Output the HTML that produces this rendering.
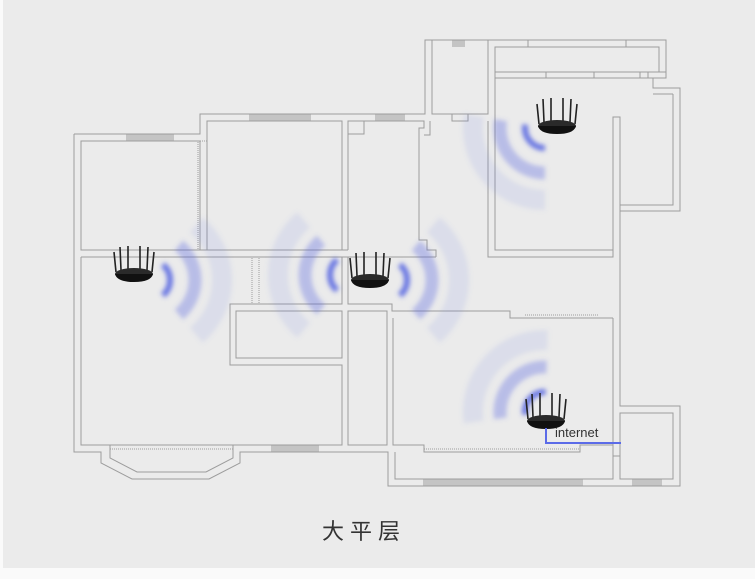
<!DOCTYPE html>
<html><head><meta charset="utf-8"><style>
html,body{margin:0;padding:0;background:#fafafa}
.wrap{position:absolute;left:3px;top:0;width:752px;height:568px;background:#ebebeb}
svg{position:absolute;left:0;top:0}
</style></head><body>
<div class="wrap"></div>
<svg width="755" height="579" viewBox="0 0 755 579">
<defs>
<filter id="bl" x="-1" y="-1" width="3" height="3"><feGaussianBlur stdDeviation="2.5"/></filter>
<g id="router">
 <g stroke="#222" stroke-width="1.6">
  <line x1="-18" y1="-2" x2="-20" y2="-22"/><line x1="-13" y1="-4" x2="-14" y2="-27"/>
  <line x1="-6" y1="-5" x2="-6" y2="-28"/><line x1="6" y1="-5" x2="6" y2="-28"/>
  <line x1="13" y1="-4" x2="14" y2="-27"/><line x1="18" y1="-2" x2="20" y2="-22"/>
 </g>
 <ellipse cx="0" cy="0" rx="19" ry="6" fill="#2a2a2a"/>
 <path d="M-19,0 Q-17,8 0,8 Q17,8 19,0Z" fill="#111"/>
</g>
</defs>
<g fill="#c4c4c4">
<rect x="126" y="134" width="48" height="7"/><rect x="249" y="114" width="62" height="7"/>
<rect x="375" y="114" width="30" height="7"/><rect x="452" y="40" width="13" height="7"/>
<rect x="271" y="445" width="48" height="7"/><rect x="423" y="479" width="160" height="7"/>
<rect x="632" y="479" width="30" height="7"/>
</g>
<g stroke="#9c9c9c" stroke-width="1" fill="none">
<polyline points="74,134 200,134 200,114 425,114 425,40 666,40 666,78 653,78 653,88 680,88 680,211 620,211 620,406 680,406 680,486 388,486 388,452 240,452 240,463 209,479 132,479 101,463 101,452 74,452 74,134"/>
<polyline points="110,445 110,458 137,472 206,472 233,458 233,445"/>
<rect x="81" y="141" width="119" height="109"/>
<rect x="207" y="121" width="135" height="129"/>
<polyline points="348,250 348,121 424,121 424,128 419,128 419,240 427,240 427,250 436,250 436,257"/>
<polyline points="430,121 430,135 424,135"/>
<rect x="348" y="121" width="16" height="13"/>
<line x1="81" y1="250" x2="348" y2="250"/>
<line x1="81" y1="257" x2="436" y2="257"/>
<polyline points="81,257 81,445 342,445 342,365 230,365 230,304 342,304 342,257"/>
<rect x="236" y="311" width="106" height="47"/>
<polyline points="348,257 348,304 392,304 392,311 510,311 510,318 613,318"/>
<rect x="348" y="311" width="39" height="134"/>
<polyline points="393,318 393,445 424,445 424,452 580,452 580,445 613,445"/>
<polyline points="395,452 395,479 613,479 613,456 620,456 620,479"/>
<line x1="613" y1="318" x2="613" y2="479"/>
<rect x="620" y="413" width="53" height="66"/>
<polyline points="432,40 432,114 488,114 488,40"/>
<polyline points="452,114 452,121 468,121 468,114"/>
<rect x="495" y="47" width="164" height="25"/>
<polyline points="495,72 495,250 613,250 613,257 488,257 488,121"/>
<line x1="495" y1="78" x2="653" y2="78"/>
<rect x="546" y="72" width="48" height="6"/>
<rect x="640" y="72" width="8" height="6"/>
<rect x="528" y="40" width="98" height="7"/>
<polyline points="613,250 613,117 620,117 620,211"/>
<polyline points="659,47 659,72 666,72"/>
<polyline points="673,94 673,205 620,205"/>
<line x1="673" y1="94" x2="653" y2="94"/>
<rect x="198" y="141" width="9" height="109" stroke-dasharray="1,1"/>
<rect x="252" y="257" width="7" height="47" stroke-dasharray="1,1"/>
<line x1="110" y1="449" x2="233" y2="449" stroke-dasharray="1,1"/>
<line x1="424" y1="449" x2="580" y2="449" stroke-dasharray="1,1"/>
<line x1="525" y1="315" x2="598" y2="315" stroke-dasharray="1,1"/>
</g>
<g filter="url(#bl)">
<g transform="translate(150,280)">
 <path d="M12.9,-15.3 A20,20 0 0 1 12.9,15.3" stroke="#4a5ae0" stroke-width="6" fill="none" opacity=".8"/>
 <path d="M28.9,-34.5 A45,45 0 0 1 28.9,34.5" stroke="#5868e0" stroke-width="13" fill="none" opacity=".35"/>
 <path d="M46.3,-55.2 A72,72 0 0 1 46.3,55.2" stroke="#6a78e0" stroke-width="20" fill="none" opacity=".13"/>
</g>
<g transform="translate(350,275) rotate(180)">
 <path d="M12.9,-15.3 A20,20 0 0 1 12.9,15.3" stroke="#4a5ae0" stroke-width="6" fill="none" opacity=".8"/>
 <path d="M28.9,-34.5 A45,45 0 0 1 28.9,34.5" stroke="#5868e0" stroke-width="13" fill="none" opacity=".35"/>
 <path d="M46.3,-55.2 A72,72 0 0 1 46.3,55.2" stroke="#6a78e0" stroke-width="20" fill="none" opacity=".13"/>
</g>
<g transform="translate(387,280)">
 <path d="M12.9,-15.3 A20,20 0 0 1 12.9,15.3" stroke="#4a5ae0" stroke-width="6" fill="none" opacity=".8"/>
 <path d="M28.9,-34.5 A45,45 0 0 1 28.9,34.5" stroke="#5868e0" stroke-width="13" fill="none" opacity=".35"/>
 <path d="M46.3,-55.2 A72,72 0 0 1 46.3,55.2" stroke="#6a78e0" stroke-width="20" fill="none" opacity=".13"/>
</g>
<g transform="translate(545,128) rotate(140)">
 <path d="M12.9,-15.3 A20,20 0 0 1 12.9,15.3" stroke="#4a5ae0" stroke-width="6" fill="none" opacity=".8"/>
 <path d="M28.9,-34.5 A45,45 0 0 1 28.9,34.5" stroke="#5868e0" stroke-width="13" fill="none" opacity=".35"/>
 <path d="M46.3,-55.2 A72,72 0 0 1 46.3,55.2" stroke="#6a78e0" stroke-width="20" fill="none" opacity=".13"/>
</g>
<g transform="translate(545,412) rotate(222)">
 <path d="M12.9,-15.3 A20,20 0 0 1 12.9,15.3" stroke="#4a5ae0" stroke-width="6" fill="none" opacity=".8"/>
 <path d="M28.9,-34.5 A45,45 0 0 1 28.9,34.5" stroke="#5868e0" stroke-width="13" fill="none" opacity=".35"/>
 <path d="M46.3,-55.2 A72,72 0 0 1 46.3,55.2" stroke="#6a78e0" stroke-width="20" fill="none" opacity=".13"/>
</g>
</g>
<use href="#router" transform="translate(134,274)"/>
<use href="#router" transform="translate(370,280)"/>
<use href="#router" transform="translate(557,126)"/>
<use href="#router" transform="translate(546,421)"/>
<polyline points="546,428 546,443 621,443" stroke="#5b6be8" stroke-width="2" fill="none"/>
<text x="555" y="437" font-family="Liberation Sans, sans-serif" font-size="13" fill="#333">internet</text>
<text x="364" y="539" text-anchor="middle" font-family="Liberation Sans, Noto Sans CJK SC, sans-serif" font-size="22" letter-spacing="6" fill="#333">大平层</text>
</svg>
</body></html>
